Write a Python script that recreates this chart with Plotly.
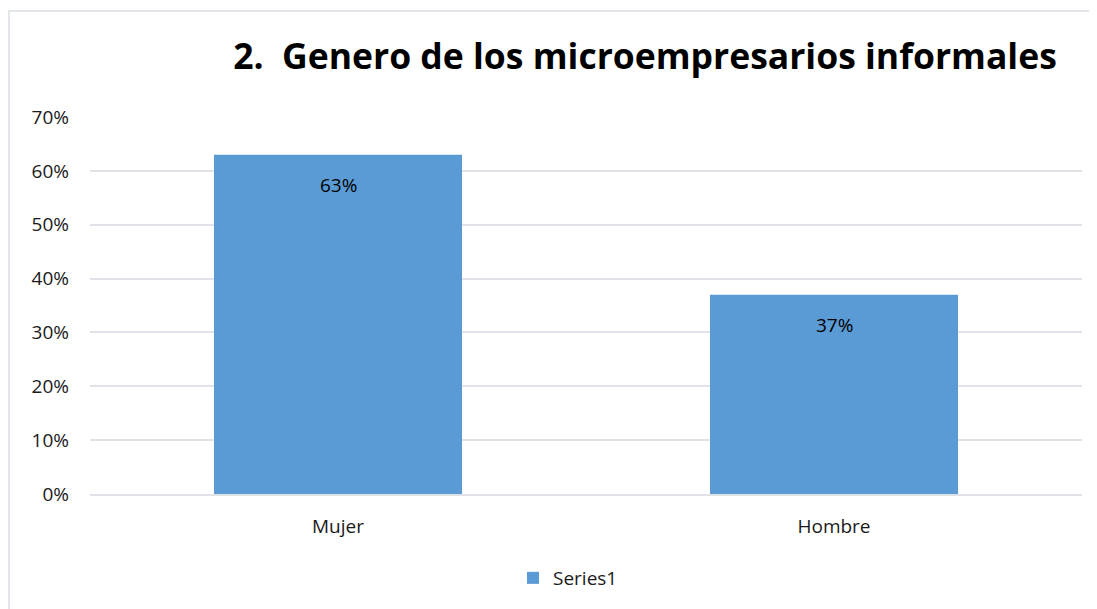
import plotly.graph_objects as go

categories = ["Mujer", "Hombre"]
values = [0.63, 0.37]
labels = ["63%", "37%"]
series_name = "Series1"

# page body has an 8px margin, so the figure is sized to fit the window
W, H = 1089, 601
L, R, T, B = 82, 15, 109, 115
pw, ph = W - L - R, H - T - B

fig = go.Figure()
fig.add_trace(go.Bar(
    x=categories, y=values, name=series_name,
    marker=dict(color="#5b9bd5", line=dict(width=0)),
    width=0.5, showlegend=True,
))

for c, v, t in zip(categories, values, labels):
    fig.add_annotation(x=c, y=v, text=t, showarrow=False, yanchor="middle",
                       yshift=-30, font=dict(size=19, color="black", family="Open Sans"))

# outer chart border
fig.add_shape(type="rect", xref="paper", yref="paper",
              x0=(1 - L) / pw, x1=(W + 5 - L) / pw,
              y0=-(B + 5) / ph, y1=(H - 3 - B) / ph,
              line=dict(color="#d9dde3", width=1.5), fillcolor="rgba(0,0,0,0)", layer="below")

fig.update_layout(
    width=W, height=H,
    margin=dict(l=L, r=R, t=T, b=B),
    paper_bgcolor="white", plot_bgcolor="white",
    title=dict(text="<b>2.  Genero de los microempresarios informales</b>",
               x=637 / W, xanchor="center", y=1 - 49 / H, yanchor="middle",
               font=dict(size=35.5, color="black", family="Open Sans")),
    font=dict(family="Open Sans", size=19, color="#1a1a1a"),
    yaxis=dict(range=[0, 0.7], dtick=0.1, tickformat=".0%", gridcolor="#dfe3e8",
               gridwidth=1.5, zeroline=False, showline=False, ticks="", ticklen=0,
               ticklabelstandoff=20, tickfont=dict(size=19)),
    xaxis=dict(showline=True, linecolor="#dfe3e8", linewidth=1.5, ticks="",
               ticklabelstandoff=14, tickfont=dict(size=19)),
    legend=dict(orientation="h", x=560 / W, xref="container", xanchor="center",
                y=1 - 570 / H, yref="container", yanchor="middle",
                font=dict(size=19), itemwidth=30),
    bargap=0.5,
)

fig.write_html("out.html")
